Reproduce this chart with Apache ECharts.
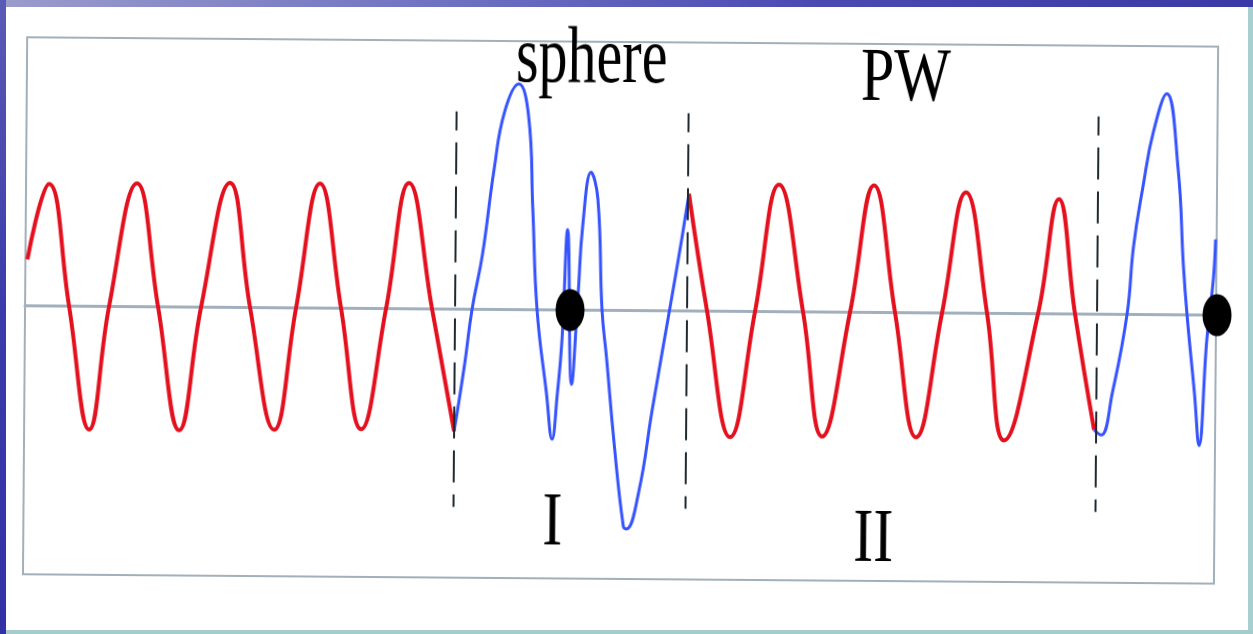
<!DOCTYPE html>
<html><head><meta charset="utf-8">
<script src="https://cdn.jsdelivr.net/npm/echarts@6/dist/echarts.min.js"></script>
<style>
html,body{margin:0;padding:0;background:#fff;overflow:hidden;width:1253px;height:634px;}
#chart{position:absolute;left:0;top:0;width:1253px;height:634px;transform:rotate(0.45deg);}
.band{position:absolute;}
</style></head><body>
<div id="chart"></div>
<div class="band" style="left:0;top:0;width:1253px;height:7px;background:linear-gradient(90deg,#9a9ccc,#7072c2 35%,#4a4ab2 65%,#3a3aa6)"></div>
<div class="band" style="left:0;top:0;width:6px;height:634px;background:linear-gradient(180deg,#5a5ab6,#3a3aaa 50%,#3232a6)"></div>
<div class="band" style="left:1248px;top:7px;width:5px;height:627px;background:#a8cfcf"></div>
<div class="band" style="left:6px;top:630px;width:1247px;height:4px;background:#a6cbcb"></div>
<script>
// time axis: sample index; amplitude: units of incident-wave amplitude
const red1 = [[2,0.38],[23,1.00],[44,0],[65,-1.01],[84,0],[111,1.01],[133,0],[155,-1.01],[176,0],[204,1.02],[225,0],[250,-1.00],[271,0],[294,1.02],[316,0],[337,-0.99],[361,0],[383,1.03],[407,0],[430,-1.00]];
const blue1 = [[430,-1.00],[440,-0.45],[447,0],[457,0.45],[468,1.15],[478,1.62],[492,1.85],[502,1.59],[507,0.82],[512,0],[522,-0.68],[528,-1.06],[533,-0.68],[537,-0.27],[542,0.66],[547,-0.61],[553,0.14],[557,0.69],[565,1.13],[572,0.91],[577,0],[582,-0.40],[590,-1.08],[600,-1.77],[603,-1.79],[615,-1.49],[628,-0.81],[645,0.03],[655,0.53],[663,0.96]];
const red2 = [[663,0.96],[682,0],[706,-1.03],[730,0],[753,1.04],[778,0],[798,-1.02],[825,0],[848,1.04],[870,0],[892,-1.02],[917,0],[940,0.99],[962,0],[980,-1.04],[1013,0],[1033,0.94],[1050,0],[1070,-0.95]];
const blue2 = [[1070,-0.95],[1077,-0.99],[1088,-0.64],[1102,0],[1108,0.56],[1117,1.05],[1127,1.50],[1140,1.81],[1152,1.19],[1158,0.40],[1162,0],[1170,-0.64],[1175,-1.07],[1182,-0.20],[1188,0.29],[1190,0.62]];
const dots = [[545,0],[1192,0]];
const dividers = [430, 662, 1072];
const dividerSpan = 1.62;
const labelTexts = ['sphere', 'PW', 'I', 'II'];

const chart = echarts.init(document.getElementById('chart'), null, {renderer:'canvas'});
const ellipse = 'path://M50,0 A50,50 0 1,1 50,100 A50,50 0 1,1 50,0 Z';
const lineBase = {type:'line', showSymbol:false, symbol:'none', smooth:0.45, silent:true, z:3};
function txt(text, x, y, size, sy){
  return {type:'text', x:x, y:y, scaleY:sy, z:20, silent:true,
    style:{text:text, fill:'#000', font:'normal '+size+'px "Liberation Serif", "DejaVu Serif", serif',
      align:'left', verticalAlign:'middle', textAlign:'left', textVerticalAlign:'middle'}};
}
chart.setOption({
  animation:false,
  backgroundColor:'transparent',
  grid:{left:25, right:37, top:42, bottom:55, show:true, borderColor:'#a2b0ba', borderWidth:2, backgroundColor:'transparent'},
  xAxis:{type:'value', min:0, max:1191, axisLine:{show:true, onZero:true, lineStyle:{color:'#a2b0be', width:3}},
    axisTick:{show:false}, axisLabel:{show:false}, splitLine:{show:false}},
  yAxis:{type:'value', min:-2.2, max:2.2, axisLine:{show:false}, axisTick:{show:false}, axisLabel:{show:false}, splitLine:{show:false}},
  series:[
    Object.assign({}, lineBase, {name:'incident 1', data:red1, lineStyle:{color:'#e4101e', width:4},
      markLine:{silent:true, symbol:['none','none'], label:{show:false}, animation:false,
        lineStyle:{type:[32,12], dashOffset:13, color:'#1f2a30', width:2},
        data: dividers.map(x => [{coord:[x, dividerSpan]}, {coord:[x, -dividerSpan]}])}}),
    Object.assign({}, lineBase, {name:'sphere I', data:blue1, lineStyle:{color:'#3553ff', width:3}}),
    Object.assign({}, lineBase, {name:'incident 2', data:red2, lineStyle:{color:'#e4101e', width:4}}),
    Object.assign({}, lineBase, {name:'sphere II', data:blue2, lineStyle:{color:'#3553ff', width:3}}),
    {type:'scatter', data:dots, symbol:ellipse, symbolSize:[29,42], itemStyle:{color:'#000', opacity:1}, z:10, silent:true, clip:false}
  ],
  graphic:[
    txt(labelTexts[0], 514, 61, 58, 1.4),
    txt(labelTexts[1], 859, 78, 60, 1.26),
    txt(labelTexts[2], 544, 525, 60, 1.26),
    txt(labelTexts[3], 855, 539, 60, 1.26)
  ]
});
</script>
</body></html>
